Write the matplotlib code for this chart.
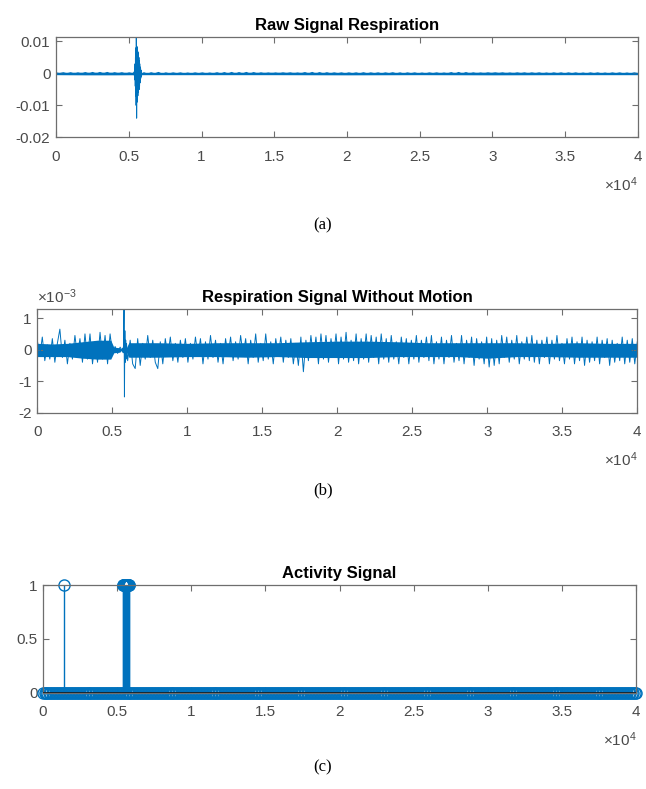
import numpy as np
import matplotlib
matplotlib.use("Agg")
import matplotlib.pyplot as plt

# ---- data ----
n_samples = 40000
xtick_vals = [0, 5000, 10000, 15000, 20000, 25000, 30000, 35000, 40000]
xtick_labels = ["0", "0.5", "1", "1.5", "2", "2.5", "3", "3.5", "4"]

# (a) raw respiration, background noise (units of 1e-3), evenly spaced over the record
raw_bg = [
    0.15, -0.1, 0.2, -0.15, 0.2, -0.2, 0.15, -0.2, 0.25, -0.2, 0.3, -0.25, 0.3, -0.2, 0.3, -0.25, 0.2, -0.15, 0.2, -0.2,
    0.15, -0.15, 0.1, -0.1, 0.2, -0.25, 0.2, -0.15, 0.3, -0.25, 0.15, -0.15, 0.15, -0.1, 0.15, -0.15, 0.1, -0.15, 0.15, -0.1,
    0.15, -0.15, 0.1, -0.15, 0.2, -0.2, 0.25, -0.2, 0.3, -0.25, 0.25, -0.2, 0.3, -0.25, 0.25, -0.2, 0.15, -0.15, 0.1, -0.15,
    0.1, -0.15, 0.15, -0.1, 0.15, -0.15, 0.1, -0.15, 0.25, -0.2, 0.3, -0.25, 0.25, -0.2, 0.2, -0.15, 0.15, -0.1, 0.15, -0.15,
    0.15, -0.1, 0.15, -0.15, 0.2, -0.15, 0.15, -0.1, 0.15, -0.15, 0.15, -0.1, 0.2, -0.15, 0.15, -0.2, 0.15, -0.1, 0.15, -0.15,
    0.1, -0.15, 0.15, -0.1, 0.15, -0.15, 0.1, -0.15, 0.25, -0.25, 0.3, -0.25, 0.25, -0.2, 0.15, -0.15, 0.1, -0.15, 0.15, -0.1,
    0.15, -0.1, 0.15, -0.15, 0.1, -0.15, 0.15, -0.1, 0.15, -0.15, 0.15, -0.1, 0.15, -0.15, 0.1, -0.15, 0.15, -0.1, 0.15, -0.15,
    0.15, -0.1, 0.15, -0.15, 0.1, -0.15, 0.15, -0.1, 0.15, -0.15, 0.1, -0.15, 0.15, -0.1, 0.15, -0.15, 0.1, -0.15, 0.15, -0.1,
]
# (a) solid core of the trace: sample positions with upper / lower edges (units of 1e-3)
raw_core_x = [0, 2000, 4000, 6000, 10000, 15000, 20000, 25000, 30000, 35000, 40000]
raw_core_hi = [0.35, 0.4, 0.4, 0.35, 0.35, 0.4, 0.35, 0.35, 0.4, 0.35, 0.35]
raw_core_lo = [-0.4, -0.45, -0.45, -0.4, -0.4, -0.4, -0.45, -0.4, -0.45, -0.4, -0.4]
# (a) motion burst around sample 5400-5900 (units of 1e-3)
raw_burst_span = (5380, 5880)
raw_burst = [
    0.5, -0.8, 1.5, -2.0, 3.0, -4.0, 5.0, -7.0, 8.0, -10.0, 12.5, -14.0, 8.5, -9.0, 8.0, -7.5, 7.0, -7.0, 6.5, -6.0,
    6.0, -5.0, 5.0, -5.0, 4.0, -4.0, 3.0, -3.0, 2.0, -2.0, 1.5, -1.5, 1.0, -1.0, 0.6, -0.5,
]

# (b) respiration without motion (units of 1e-3), evenly spaced over the record
resp_bg = [
    0.3, -0.2, 0.4, -0.35, 0.15, -0.3, 0.35, -0.4, 0.2, 0.65, -0.25, 0.3, -0.45, 0.2, -0.3, 0.45, -0.2, 0.35, -0.4, 0.5,
    -0.3, 0.5, -0.45, 0.25, -0.4, 0.55, -0.3, 0.45, -0.45, 0.5, -0.15, 0.1, -0.12, 0.08, -0.05, 0.05, -0.35, 0.3, -0.45, -0.6,
    0.35, -0.5, 0.2, -0.3, 0.45, -0.25, 0.3, -0.4, -0.6, 0.25, -0.45, 0.35, -0.2, 0.4, -0.35, 0.2, -0.4, 0.3, -0.25, 0.35,
    -0.4, 0.2, -0.3, 0.4, -0.2, 0.35, -0.45, 0.25, -0.3, 0.45, -0.25, 0.3, -0.4, 0.2, -0.45, 0.35, -0.2, 0.4, -0.35, 0.25,
    -0.3, 0.45, -0.2, 0.35, -0.45, 0.3, -0.25, 0.5, -0.4, 0.2, -0.35, 0.5, -0.3, 0.25, -0.45, 0.35, -0.2, 0.4, -0.4, 0.3,
    -0.25, 0.35, -0.45, 0.2, -0.5, 0.4, -0.7, 0.3, -0.35, 0.45, -0.25, 0.4, -0.45, 0.5, -0.3, 0.45, -0.4, 0.35, -0.25, 0.5,
    -0.45, 0.4, -0.3, 0.55, -0.4, 0.3, -0.35, 0.5, -0.45, 0.35, -0.3, 0.5, -0.4, 0.45, -0.25, 0.4, -0.45, 0.5, -0.3, 0.35,
    -0.4, 0.45, -0.3, 0.25, -0.45, 0.4, -0.25, 0.35, -0.45, 0.3, -0.3, 0.45, -0.4, 0.3, -0.25, 0.4, -0.35, 0.45, -0.45, 0.25,
    -0.3, 0.4, -0.45, 0.3, -0.25, 0.45, -0.4, 0.2, -0.35, 0.45, -0.45, 0.3, -0.25, 0.4, -0.5, 0.35, -0.3, 0.25, -0.45, 0.4,
    -0.55, 0.35, -0.5, 0.3, -0.45, 0.45, -0.25, 0.4, -0.4, 0.3, -0.3, 0.45, -0.45, 0.25, -0.3, 0.4, -0.35, 0.45, -0.4, 0.3,
    -0.45, 0.3, -0.25, 0.4, -0.45, 0.3, -0.3, 0.45, -0.35, 0.2, -0.45, 0.35, -0.3, 0.4, -0.45, 0.25, -0.35, 0.4, -0.5, 0.3,
    -0.4, 0.25, -0.35, 0.4, -0.45, 0.3, -0.25, 0.35, -0.5, 0.3, -0.4, 0.2, -0.35, 0.4, -0.45, 0.3, -0.4, 0.35, -0.45, 0.25,
]
# (b) solid core of the trace: sample positions with upper / lower edges (units of 1e-3)
resp_core_x = [0, 1000, 2000, 3000, 4000, 4900, 5100, 5500, 5600, 5900, 6100, 8000, 10000, 12000, 14000,
               16000, 18000, 20000, 22000, 24000, 26000, 28000, 30000, 32000, 34000, 36000, 38000, 40000]
resp_core_hi = [0.2, 0.18, 0.2, 0.25, 0.3, 0.3, 0.08, 0.06, 0.02, 0.02, 0.22, 0.22, 0.2, 0.22, 0.22,
                0.22, 0.25, 0.27, 0.27, 0.25, 0.22, 0.22, 0.22, 0.22, 0.2, 0.22, 0.2, 0.2]
resp_core_lo = [-0.22, -0.22, -0.22, -0.27, -0.3, -0.3, -0.1, -0.08, -0.03, -0.03, -0.24, -0.24, -0.22, -0.22, -0.24,
                -0.22, -0.25, -0.25, -0.25, -0.22, -0.22, -0.22, -0.27, -0.22, -0.22, -0.24, -0.24, -0.24]
# (b) single residual spike near sample 5800 (units of 1e-3)
resp_spike_span = (5700, 5950)
resp_spike = [0.05, -0.1, 0.2, 1.35, -1.5, 0.6, -0.4, 0.3, -0.3, 0.2]

# (c) activity signal: stem every 100 samples, value 1 at these samples
activity_step = 100
activity_on = [1400, 5400, 5425, 5450, 5475, 5500, 5525, 5550, 5575, 5600, 5625, 5650, 5675, 5700, 5725, 5750, 5775, 5800]

# ---- style ----
blue = "#0072BD"
spine_c = "#6e6e6e"
label_c = "#4a4a4a"
plt.rcParams["font.family"] = ["Liberation Sans", "DejaVu Sans"]
plt.rcParams["mathtext.fontset"] = "custom"
plt.rcParams["mathtext.rm"] = "Liberation Sans"
plt.rcParams["mathtext.it"] = "Liberation Sans"


def style_axes(ax, yticks, ylabels, title):
    ax.set_xlim(0, n_samples)
    ax.set_xticks(xtick_vals)
    ax.set_xticklabels(xtick_labels)
    ax.set_yticks(yticks)
    ax.set_yticklabels(ylabels)
    ax.tick_params(direction="in", top=True, right=True, length=4, width=0.8,
                   color=spine_c, labelcolor=label_c, labelsize=11, pad=4)
    ax.tick_params(axis="x", pad=9)
    for s in ax.spines.values():
        s.set_color(spine_c)
        s.set_linewidth(0.9)
    ax.set_title(title, fontsize=12, fontweight="bold", color="black", pad=5)
    ax.annotate(r"$\times$10$^{4}$", xy=(1, 0), xycoords="axes fraction",
                xytext=(0, -47), textcoords="offset pixels", ha="right", va="center",
                fontsize=11, color=label_c)


def spread(values, span=None):
    if span is None:
        return np.linspace(0, n_samples, len(values))
    return np.linspace(span[0], span[1], len(values))


fig = plt.figure(figsize=(6.46, 7.89), dpi=100)

# (a)
ax1 = fig.add_axes([0.0867, 0.826, 0.9009, 0.1275])
ax1.fill_between(raw_core_x, np.array(raw_core_lo) * 1e-3, np.array(raw_core_hi) * 1e-3, color=blue, lw=0)
xa = np.concatenate([spread(raw_bg), spread(raw_burst, raw_burst_span)])
ya = np.concatenate([raw_bg, raw_burst]) * 1e-3
order = np.argsort(xa, kind="stable")
ax1.plot(xa[order], ya[order], color=blue, lw=0.8)
ax1.set_ylim(-0.02, 0.0115)
style_axes(ax1, [-0.02, -0.01, 0, 0.01], ["-0.02", "-0.01", "0", "0.01"], "Raw Signal Respiration")
ax1.title.set_y(1.03)

# (b)
ax2 = fig.add_axes([0.0577, 0.4769, 0.9288, 0.1311])
ax2.fill_between(resp_core_x, resp_core_lo, resp_core_hi, color=blue, lw=0)
xb = np.concatenate([spread(resp_bg), spread(resp_spike, resp_spike_span)])
yb = np.concatenate([resp_bg, resp_spike])
order = np.argsort(xb, kind="stable")
ax2.plot(xb[order], yb[order], color=blue, lw=0.7)
ax2.set_ylim(-2, 1.28)
style_axes(ax2, [-2, -1, 0, 1], ["-2", "-1", "0", "1"], "Respiration Signal Without Motion")
ax2.text(0, 1.03, r"$\times$10$^{-3}$", transform=ax2.transAxes, ha="left", va="bottom",
         fontsize=11, color=label_c)

# (c)
ax3 = fig.add_axes([0.0666, 0.122, 0.918, 0.1365])
xc = np.arange(0, n_samples + 1, activity_step).astype(float)
xc = np.concatenate([xc, activity_on])
yc = np.concatenate([np.zeros(len(xc) - len(activity_on)), np.ones(len(activity_on))])
order = np.argsort(xc, kind="stable")
xc, yc = xc[order], yc[order]
ml, sl, bl = ax3.stem(xc, yc, basefmt="k-")
ml.set_marker("o")
ml.set_markersize(8)
ml.set_markerfacecolor("none")
ml.set_markeredgecolor(blue)
ml.set_markeredgewidth(1.0)
ml.set_clip_on(False)
sl.set_color(blue)
sl.set_linewidth(1.0)
bl.set_color("#1a1a1a")
bl.set_linewidth(1.2)
bl.set_zorder(5)
ax3.set_ylim(0, 1)
style_axes(ax3, [0, 0.5, 1], ["0", "0.5", "1"], "Activity Signal")

# sub-captions
for lab, yy in [("(a)", 225), ("(b)", 490), ("(c)", 767)]:
    fig.text(323 / 646, 1 - yy / 789, lab, ha="center", va="center",
             fontsize=12, family=["Liberation Serif", "DejaVu Serif"])

fig.savefig("out.png", dpi=100)
